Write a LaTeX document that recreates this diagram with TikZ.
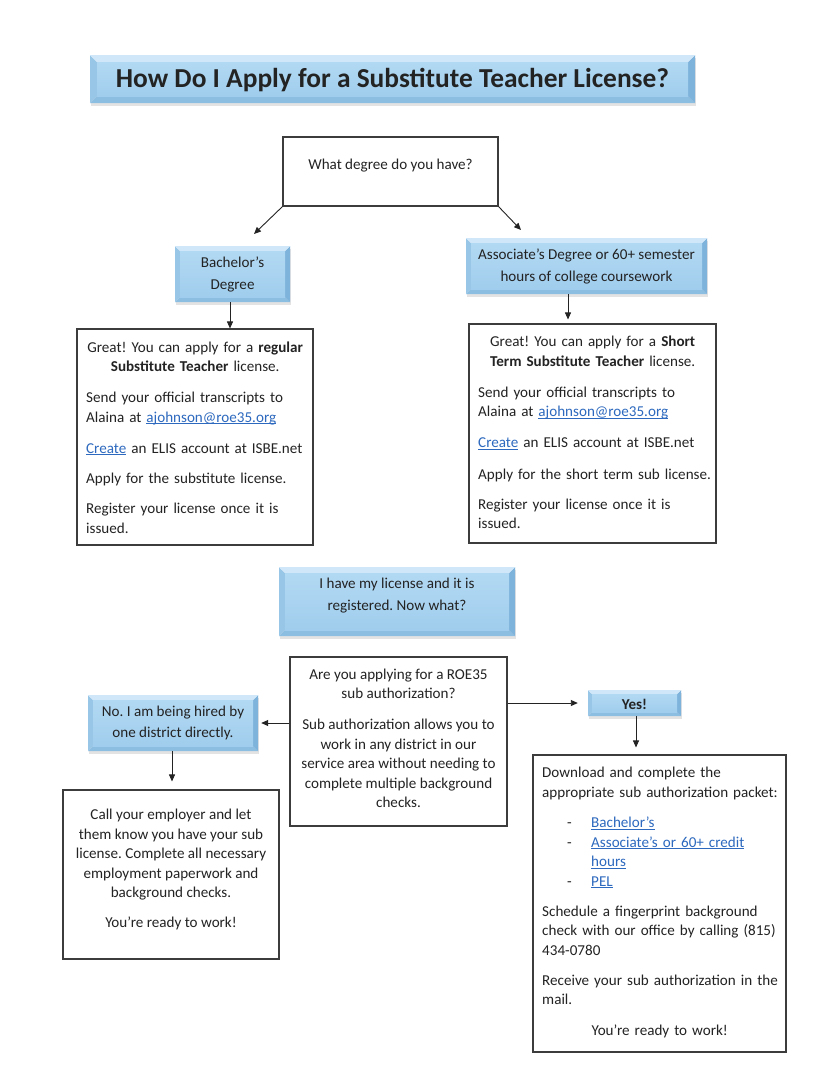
\documentclass[tikz,border=0pt]{standalone}
\usepackage{fontspec}
\setmainfont{Carlito}
\usetikzlibrary{arrows.meta,calc,shadows}
\definecolor{ink}{RGB}{35,35,35}
\definecolor{boxc}{RGB}{60,60,60}
\definecolor{lnkc}{RGB}{45,105,190}
\definecolor{bvTop}{RGB}{207,231,249}
\definecolor{bvLeft}{RGB}{152,198,231}
\definecolor{bvRight}{RGB}{126,179,219}
\definecolor{bvBot}{RGB}{140,190,226}
\definecolor{faceTop}{RGB}{178,217,243}
\definecolor{faceBot}{RGB}{160,205,237}
\frenchspacing
\newcommand{\lnk}[1]{\leavevmode{\color{lnkc}\setbox0\hbox{#1}\rlap{\rule[-2pt]{\wd0}{0.8pt}}\box0}}
\newcommand{\bul}[1]{\makebox[49pt][l]{\hspace*{25pt}-}\lnk{#1}}
\tikzset{
  bevel/.style={draw=none, inner sep=0pt,
    drop shadow={opacity=0.22, shadow xshift=1pt, shadow yshift=-3pt},
    path picture={
      \coordinate (bA) at (path picture bounding box.north west);
      \coordinate (bB) at (path picture bounding box.north east);
      \coordinate (bC) at (path picture bounding box.south east);
      \coordinate (bD) at (path picture bounding box.south west);
      \coordinate (ba) at ($(bA)+(#1pt,-#1pt)$);
      \coordinate (bb) at ($(bB)+(-#1pt,-#1pt)$);
      \coordinate (bc) at ($(bC)+(-#1pt,#1pt)$);
      \coordinate (bd) at ($(bD)+(#1pt,#1pt)$);
      \fill[bvBot] (bD)--(bd)--(bc)--(bC)--cycle;
      \fill[bvRight] (bB)--(bb)--(bc)--(bC)--cycle;
      \fill[bvLeft] (bA)--(ba)--(bd)--(bD)--cycle;
      \fill[bvTop] (bA)--(bB)--(bb)--(ba)--cycle;
      \shade[top color=faceTop, bottom color=faceBot] (ba) rectangle (bc);
    }},
  bevel/.default=6,
  plainbox/.style={draw=boxc, line width=1.1pt, fill=white, inner sep=0pt},
  txt/.style={text=ink, inner sep=0pt, font=\fontsize{15.1}{19.5}\selectfont},
  btxt/.style={text=ink, inner sep=0pt, align=center, font=\fontsize{15.1}{22}\selectfont},
  arr/.style={draw=ink, line width=0.9pt, -{Triangle[length=7pt,width=6pt]}},
}
\begin{document}
\begin{tikzpicture}[x=1pt,y=-1pt]
\useasboundingbox (0,0) rectangle (818,1080);
\fill[white] (0,0) rectangle (818,1080);

% title
\node[bevel=7, minimum width=605pt, minimum height=48pt] (title) at (392.5,79) {};
\node[text=ink, inner sep=0pt, font=\fontsize{27.4}{32}\selectfont\bfseries] (ttitle) at (392.5,80) {How Do I Apply for a Substitute Teacher License?};

% question
\node[plainbox, minimum width=215pt, minimum height=69pt] (q) at (390.5,171.5) {};
\node[txt] (tq) at (390.5,166) {What degree do you have?};

% degree boxes
\node[bevel=5, minimum width=115pt, minimum height=56pt] (bach) at (232.5,274) {};
\node[btxt] (tbach) at (232.5,274) {Bachelor’s\\Degree};
\node[bevel=5, minimum width=241pt, minimum height=56pt] (assoc) at (586.5,266) {};
\node[btxt] (tassoc) at (586.5,266.5) {Associate’s Degree or 60+ semester\\hours of college coursework};

% big boxes
\node[plainbox, minimum width=236pt, minimum height=216pt] (lbig) at (195,437) {};
\node[txt, anchor=west, text width=238pt, align=left] (tlbig) at (86,437.5) {%
\makebox[218pt][c]{Great! You can apply for a \textbf{regular}}\\
\makebox[218pt][c]{\textbf{Substitute Teacher} license.}\\[11.5pt]
Send your official transcripts to\\
Alaina at \lnk{ajohnson@roe35.org}\\[11.5pt]
\lnk{Create} an ELIS account at ISBE.net\\[11pt]
Apply for the substitute license.\\[10.5pt]
Register your license once it is\\
issued.};

\node[plainbox, minimum width=247pt, minimum height=219pt] (rbig) at (592.5,433.5) {};
\node[txt, anchor=west, text width=249pt, align=left] (trbig) at (478,432.5) {%
\makebox[229pt][c]{Great! You can apply for a \textbf{Short}}\\
\makebox[229pt][c]{\textbf{Term Substitute Teacher} license.}\\[11.5pt]
Send your official transcripts to\\
Alaina at \lnk{ajohnson@roe35.org}\\[11.5pt]
\lnk{Create} an ELIS account at ISBE.net\\[12pt]
Apply for the short term sub license.\\[10.5pt]
Register your license once it is\\
issued.};

% now what
\node[bevel=6, minimum width=236pt, minimum height=69pt] (lic) at (397,601.5) {};
\node[btxt] (tlic) at (397,596) {I have my license and it is\\registered. Now what?};

% ROE35 question
\node[plainbox, minimum width=217pt, minimum height=169pt] (roe) at (398.5,741.5) {};
\node[txt, align=center] (troe) at (398.5,738.5) {Are you applying for a ROE35\\sub authorization?\\[11.5pt]Sub authorization allows you to\\work in any district in our\\service area without needing to\\complete multiple background\\checks.};

% No / Yes
\node[bevel=5, minimum width=170pt, minimum height=56pt] (no) at (173,723) {};
\node[btxt, font=\fontsize{15.1}{21}\selectfont] (tno) at (173,723) {No. I am being hired by\\one district directly.};
\node[bevel=4, minimum width=93pt, minimum height=26pt] (yes) at (634.5,703) {};
\node[btxt, font=\fontsize{15.1}{22}\selectfont\bfseries] (tyes) at (634.5,704) {Yes!};

% bottom boxes
\node[plainbox, minimum width=216pt, minimum height=169pt] (lbot) at (171,874.5) {};
\node[txt, align=center] (tlbot) at (171,869.5) {Call your employer and let\\them know you have your sub\\license. Complete all necessary\\employment paperwork and\\background checks.\\[10.5pt]You’re ready to work!};

\node[plainbox, minimum width=253pt, minimum height=297pt] (rbot) at (659.5,903.5) {};
\node[txt, anchor=west, text width=255pt, align=left] (trbot) at (542,902.5) {%
Download and complete the\\
appropriate sub authorization packet:\\[11pt]
\bul{Bachelor’s}\\
\bul{Associate’s or 60+ credit}\\
\hspace*{49pt}\lnk{hours}\\
\bul{PEL}\\[10.5pt]
Schedule a fingerprint background\\
check with our office by calling (815)\\
434-0780\\[10.5pt]
Receive your sub authorization in the\\
mail.\\[11pt]
\makebox[235pt][c]{You’re ready to work!}};

% connectors
\coordinate (qL) at (254,234);
\coordinate (qR) at (521,230);
\coordinate (xa) at (568,0);
\coordinate (xb) at (230,0);
\coordinate (xc) at (172,0);
\coordinate (xd) at (636,0);
\draw[arr] (q.south west) -- (qL);
\draw[arr] (q.south east) -- (qR);
\draw[arr] (bach.south -| xb) -- (lbig.north -| xb);
\draw[arr, shorten >=4pt] (assoc.south -| xa) -- (rbig.north -| xa);
\draw[arr, shorten >=3pt] (roe.west |- no.east) -- (no.east);
\draw[arr, shorten >=10pt] (roe.east |- yes.west) -- (yes.west);
\draw[arr, shorten >=8pt] (no.south -| xc) -- (lbot.north -| xc);
\draw[arr, shorten >=7pt] (yes.south -| xd) -- (rbot.north -| xd);
\end{tikzpicture}
\end{document}
